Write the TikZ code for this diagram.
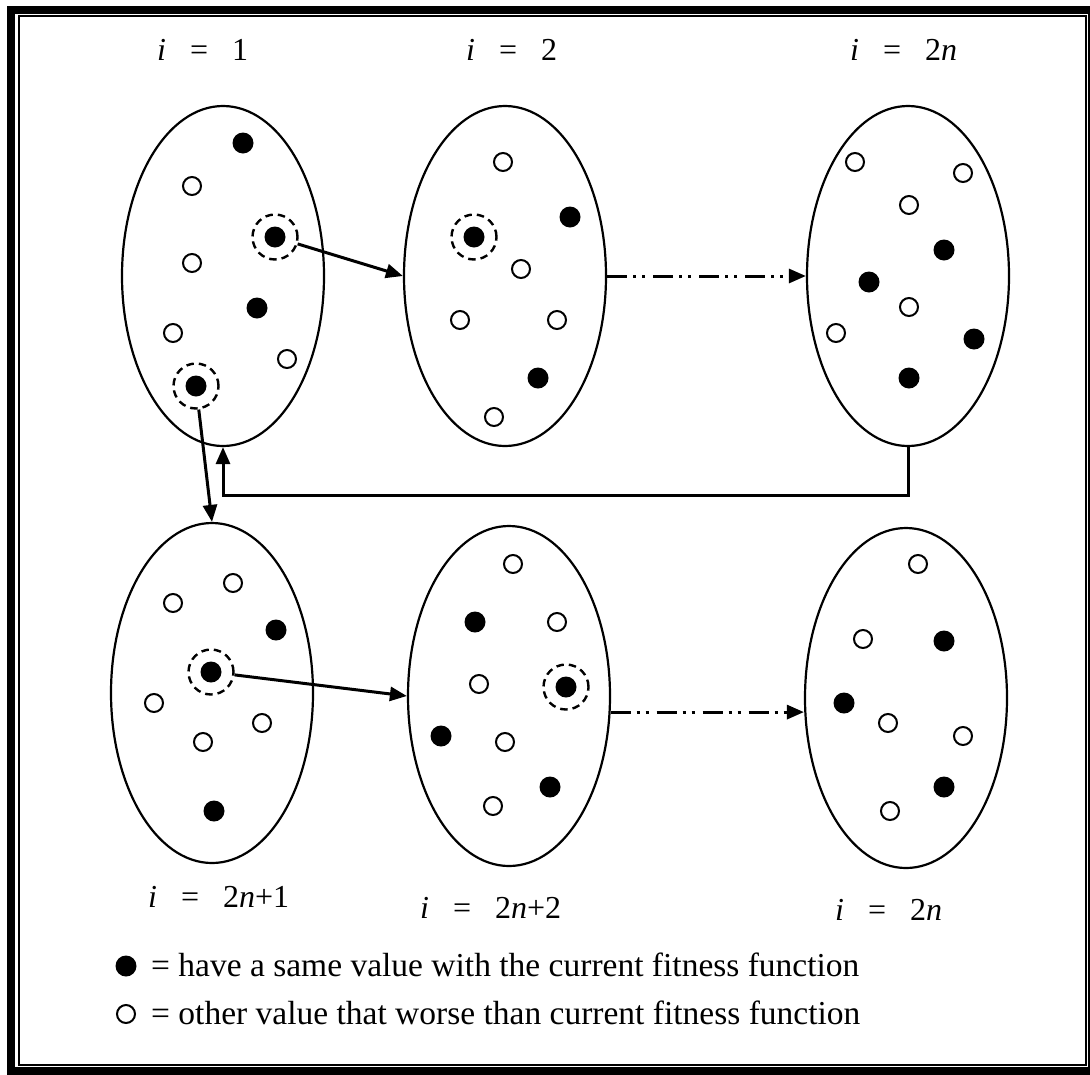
\documentclass[tikz,border=0pt]{standalone}
\usepackage{fontspec}
\setmainfont{Liberation Serif}
\usetikzlibrary{shapes.geometric,arrows.meta,calc}
\newcommand\ilab[1]{\textit{i}\hspace{0.75em}=\hspace{0.75em}#1}
\begin{document}
\begin{tikzpicture}[x=1pt,y=-1pt,
  pop/.style={ellipse,draw,line width=2.2pt,minimum width=202pt,minimum height=340pt,inner sep=0pt},
  fdot/.style={circle,fill=black,minimum size=21pt,inner sep=0pt},
  odot/.style={circle,draw,line width=2pt,minimum size=18pt,inner sep=0pt},
  ring/.style={circle,draw,line width=2.4pt,dash pattern=on 7.5pt off 5pt,minimum size=45pt,inner sep=0pt},
  arr/.style={line width=3pt,-{Triangle[length=17pt,width=14pt]}},
  dda/.style={arr,dash pattern=on 20pt off 6pt on 3pt off 6pt on 3pt off 8pt},
  lab/.style={font=\fontsize{32}{38}\selectfont,inner sep=0pt},
  legtext/.style={font=\fontsize{33.5}{40}\selectfont,inner sep=0pt,anchor=base west}]
\useasboundingbox (0,0) rectangle (1090,1074);
\fill[white] (0,0) rectangle (1090,1074);
% frame
\draw[line width=8pt] (11.3,10) rectangle (1092,1071);
\draw[line width=2pt] (18.5,16) rectangle (1086,1065);

% populations
\node[pop] (e1) at (223,276) {};
\node[pop] (e2) at (505,276) {};
\node[pop] (e3) at (908,276) {};
\node[pop] (e4) at (212,693) {};
\node[pop] (e5) at (509,696) {};
\node[pop] (e6) at (906,698) {};

% labels
\node[lab,anchor=base west] (l1) at (157,60) {\ilab{1}};
\node[lab,anchor=base west] (l2) at (466,60) {\ilab{2}};
\node[lab,anchor=base west] (l3) at (850,60) {\ilab{2\textit{n}}};
\node[lab,anchor=base west] (l4) at (148,907) {\ilab{2\textit{n}+1}};
\node[lab,anchor=base west] (l5) at (420,918) {\ilab{2\textit{n}+2}};
\node[lab,anchor=base west] (l6) at (835,920) {\ilab{2\textit{n}}};

% E1 dots
\node[fdot] (a1) at (243,143) {};
\node[odot] (a2) at (192,186) {};
\node[fdot] (a3) at (275,237) {};
\node[ring] (r1) at (275,237) {};
\node[odot] (a4) at (192,263) {};
\node[fdot] (a5) at (257,308) {};
\node[odot] (a6) at (173,333) {};
\node[odot] (a7) at (287,359) {};
\node[fdot] (a8) at (196,386) {};
\node[ring] (r2) at (196,386) {};

% E2 dots
\node[odot] (b1) at (503,162) {};
\node[fdot] (b2) at (570,217) {};
\node[fdot] (b3) at (474,237) {};
\node[ring] (r3) at (474,237) {};
\node[odot] (b4) at (521,269) {};
\node[odot] (b5) at (460,320) {};
\node[odot] (b6) at (557,320) {};
\node[fdot] (b7) at (538,378) {};
\node[odot] (b8) at (494,417) {};

% E3 dots
\node[odot] (c1) at (855,162) {};
\node[odot] (c2) at (963,173) {};
\node[odot] (c3) at (909,205) {};
\node[fdot] (c4) at (944,250) {};
\node[fdot] (c5) at (869,282) {};
\node[odot] (c6) at (909,307) {};
\node[odot] (c7) at (836,333) {};
\node[fdot] (c8) at (974,339) {};
\node[fdot] (c9) at (909,378) {};

% E4 dots
\node[odot] (d1) at (173,603) {};
\node[odot] (d2) at (233,583) {};
\node[fdot] (d3) at (276,630) {};
\node[fdot] (d4) at (211,672) {};
\node[ring] (r4) at (211,672) {};
\node[odot] (d5) at (154,703) {};
\node[odot] (d6) at (262,723) {};
\node[odot] (d7) at (203,742) {};
\node[fdot] (d8) at (214,811) {};

% E5 dots
\node[odot] (g1) at (513,564) {};
\node[fdot] (g2) at (475,622) {};
\node[odot] (g3) at (557,622) {};
\node[odot] (g4) at (479,684) {};
\node[fdot] (g5) at (566,687) {};
\node[ring] (r5) at (566,687) {};
\node[fdot] (g6) at (441,736) {};
\node[odot] (g7) at (505,742) {};
\node[fdot] (g8) at (550,787) {};
\node[odot] (g9) at (493,806) {};

% E6 dots
\node[odot] (h1) at (918,564) {};
\node[odot] (h2) at (863,639) {};
\node[fdot] (h3) at (944,641) {};
\node[fdot] (h4) at (844,703) {};
\node[odot] (h5) at (888,723) {};
\node[odot] (h6) at (963,736) {};
\node[fdot] (h7) at (944,787) {};
\node[odot] (h8) at (890,811) {};

% connectors
\draw[arr] (r1) -- (e2.west);
\draw[arr] (r2) -- (e4.north);
\draw[arr] (r4) -- (e5.west);
\draw[arr] (e3.south) -- ++(0,48) -| (e1.south);
\draw[dda] (e2.east) -- (e3.west);
\coordinate (s5) at (e5.-9.5);
\draw[dda] (s5) -- (s5 -| e6.west);

% legend
\node[fdot] (k1) at (126,966) {};
\node[legtext] (t1) at (151,976) {= have a same value with the current fitness function};
\node[odot] (k2) at (126,1014) {};
\node[legtext] (t2) at (151,1024) {= other value that worse than current fitness function};
\end{tikzpicture}
\end{document}
